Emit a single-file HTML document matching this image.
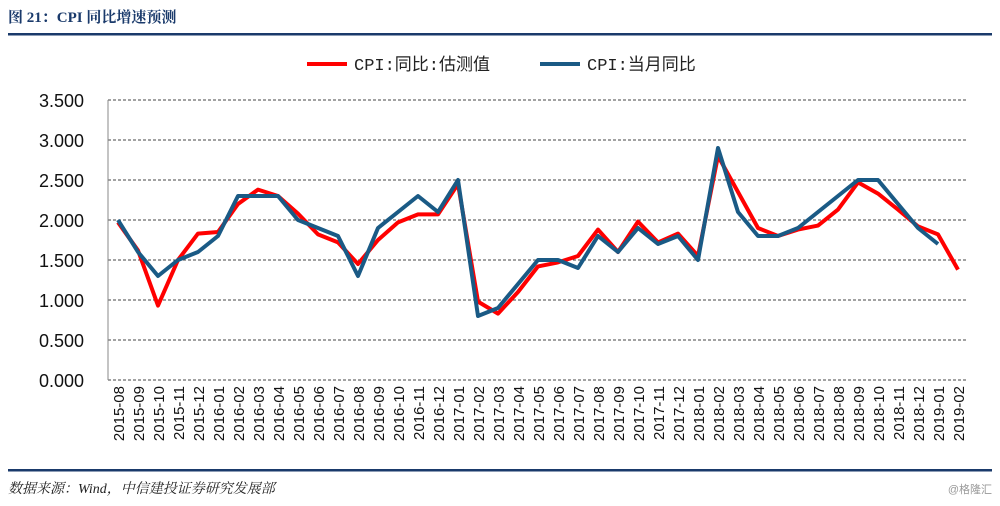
<!DOCTYPE html>
<html><head><meta charset="utf-8"><style>
body{margin:0;background:#fff;font-family:"Liberation Sans","Noto Sans CJK SC",sans-serif}
</style></head><body>
<svg width="1000" height="501" xmlns="http://www.w3.org/2000/svg">
<text x="8" y="22" font-size="15" font-weight="bold" fill="#1a3a6b" font-family="Liberation Serif,Noto Serif CJK SC,serif">图 21：CPI 同比增速预测</text>
<rect x="8" y="33" width="984" height="2.5" fill="#1a3a6b"/>
<rect x="8" y="469" width="984" height="2.5" fill="#1a3a6b"/>
<text x="8" y="493" font-size="14" font-style="italic" fill="#222" font-family="Liberation Serif,Noto Serif CJK SC,serif">数据来源：Wind，中信建投证券研究发展部</text>
<text x="992" y="493" font-size="11" fill="#999" text-anchor="end">@格隆汇</text>
<g>
<line x1="307" y1="64" x2="347" y2="64" stroke="#f00" stroke-width="4"/>
<text x="354" y="70" font-size="17" fill="#222" font-family="Liberation Mono,Noto Sans CJK SC,monospace">CPI:同比:估测值</text>
<line x1="540" y1="64" x2="580" y2="64" stroke="#1a5a85" stroke-width="4"/>
<text x="587" y="70" font-size="17" fill="#222" font-family="Liberation Mono,Noto Sans CJK SC,monospace">CPI:当月同比</text>
</g>
<g id="plot"></g>
</svg>
<script>
const categories=["2015-08","2015-09","2015-10","2015-11","2015-12","2016-01","2016-02","2016-03","2016-04","2016-05","2016-06","2016-07","2016-08","2016-09","2016-10","2016-11","2016-12","2017-01","2017-02","2017-03","2017-04","2017-05","2017-06","2017-07","2017-08","2017-09","2017-10","2017-11","2017-12","2018-01","2018-02","2018-03","2018-04","2018-05","2018-06","2018-07","2018-08","2018-09","2018-10","2018-11","2018-12","2019-01","2019-02"];
const estimate=[1.97,1.62,0.93,1.5,1.83,1.85,2.2,2.38,2.3,2.08,1.82,1.72,1.45,1.75,1.97,2.07,2.07,2.45,0.98,0.83,1.1,1.42,1.47,1.55,1.88,1.6,1.98,1.72,1.83,1.55,2.8,2.35,1.9,1.8,1.88,1.93,2.13,2.47,2.33,2.13,1.92,1.82,1.38];
const actual=[2.0,1.6,1.3,1.5,1.6,1.8,2.3,2.3,2.3,2.0,1.9,1.8,1.3,1.9,2.1,2.3,2.1,2.5,0.8,0.9,1.2,1.5,1.5,1.4,1.8,1.6,1.9,1.7,1.8,1.5,2.9,2.1,1.8,1.8,1.9,2.1,2.3,2.5,2.5,2.2,1.9,1.7,null];
const yTicks=[0,0.5,1,1.5,2,2.5,3,3.5];
const NS="http://www.w3.org/2000/svg";
const g=document.getElementById('plot');
const xs=i=>118+i*20, ys=v=>380-v*80;
function mk(t,a){const e=document.createElementNS(NS,t);for(const k in a)e.setAttribute(k,a[k]);g.appendChild(e);return e;}
yTicks.forEach(v=>{
 const l=mk('line',{x1:108,x2:968,y1:ys(v),y2:ys(v),stroke:'#444','stroke-width':1,'stroke-dasharray':'3,2'});
 
 
 const t=mk('text',{x:84,y:ys(v)+7,'font-size':18,'text-anchor':'end',fill:'#111'});
 t.textContent=v.toFixed(3);
 
 
});
const ax=mk('line',{x1:108,x2:108,y1:100,y2:380,stroke:'#888','stroke-width':1});


categories.forEach((c,i)=>{
 const t=mk('text',{x:0,y:0,'font-size':15,'text-anchor':'end',fill:'#111',transform:`translate(${xs(i)+6},386) rotate(-90)`});
 t.textContent=c;
 
 
});
function line(arr,col,name){
 const pts=arr.map((v,i)=>v==null?null:xs(i)+','+ys(v)).filter(p=>p).join(' ');
 const p=mk('polyline',{points:pts,fill:'none',stroke:col,'stroke-width':4,'stroke-linejoin':'round'});
 
 
}
line(estimate,'#f00','series-estimate');
line(actual,'#1a5a85','series-actual');
</script>
</body></html>
